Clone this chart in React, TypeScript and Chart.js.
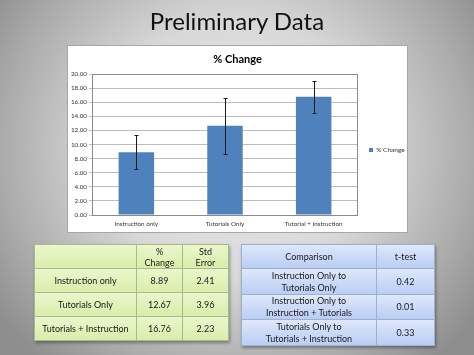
import React, { useEffect, useRef } from "react";
import { Chart, registerables } from "chart.js";

Chart.register(...registerables);

const categories = ["Instruction only", "Tutorials Only", "Tutorial + Instruction"];
const percentChange = [8.89, 12.67, 16.76];
const stdError = [2.41, 3.96, 2.23];
const yMin = 0;
const yMax = 20;
const yStep = 2;

const tableHeader = ["", "%\nChange", "Std\nError"];
const tableRowLabels = ["Instruction only", "Tutorials Only", "Tutorials + Instruction"];
const tableChange = ["8.89", "12.67", "16.76"];
const tableError = ["2.41", "3.96", "2.23"];

const compHeader = ["Comparison", "t-test"];
const comparisons = [
  "Instruction Only to\nTutorials Only",
  "Instruction Only to\nInstruction + Tutorials",
  "Tutorials Only to\nTutorials + Instruction",
];
const tTests = ["0.42", "0.01", "0.33"];

const FONT = "Lato, 'Open Sans', sans-serif";

const plotBorder = {
  id: "plotBorder",
  beforeDatasetsDraw(chart: any) {
    const { ctx, chartArea } = chart;
    ctx.save();
    ctx.strokeStyle = "#8a8a8a";
    ctx.lineWidth = 1;
    ctx.strokeRect(
      Math.round(chartArea.left) + 0.5,
      Math.round(chartArea.top) + 0.5,
      Math.round(chartArea.right - chartArea.left) - 1,
      Math.round(chartArea.bottom - chartArea.top)
    );
    ctx.restore();
  },
};

const errorBars = {
  id: "errorBars",
  afterDatasetsDraw(chart: any) {
    const meta = chart.getDatasetMeta(0);
    const y = chart.scales.y;
    const ctx = chart.ctx;
    ctx.save();
    ctx.strokeStyle = "#1a1a1a";
    ctx.lineWidth = 1;
    meta.data.forEach((bar: any, i: number) => {
      const v = percentChange[i];
      const e = stdError[i];
      const x = Math.round(bar.x) + 0.5;
      const yTop = Math.round(y.getPixelForValue(v + e)) + 0.5;
      const yBot = Math.round(y.getPixelForValue(v - e)) + 0.5;
      ctx.beginPath();
      ctx.moveTo(x, yTop);
      ctx.lineTo(x, yBot);
      ctx.moveTo(x - 2, yTop);
      ctx.lineTo(x + 2, yTop);
      ctx.moveTo(x - 2, yBot);
      ctx.lineTo(x + 2, yBot);
      ctx.stroke();
    });
    ctx.restore();
  },
};

function ChartBox() {
  const ref = useRef<HTMLCanvasElement>(null);
  useEffect(() => {
    if (!ref.current) return;
    const chart = new Chart(ref.current, {
      type: "bar",
      data: {
        labels: categories,
        datasets: [
          {
            label: "% Change",
            data: percentChange,
            backgroundColor: "#4F81BD",
            borderWidth: 0,
            barPercentage: 0.4,
            categoryPercentage: 1,
          },
        ],
      },
      options: {
        animation: false,
        responsive: false,
        devicePixelRatio: 1,
        layout: { padding: { left: 0, right: 0, top: 0, bottom: 0 } },
        plugins: {
          title: {
            display: true,
            text: "% Change",
            color: "#000",
            font: { family: FONT, size: 11, weight: "bold" },
            padding: { top: 6.4, bottom: 8.4 },
          },
          legend: {
            position: "right",
            maxWidth: 49,
            title: {
              display: true,
              text: "",
              font: { family: FONT, size: 2, lineHeight: 1 },
              padding: { top: 20, bottom: 0 },
            },
            labels: {
              boxWidth: 4,
              boxHeight: 4,
              padding: 11,
              color: "#333",
              font: { family: FONT, size: 6.5 },
            },
          },
          tooltip: { enabled: false },
        },
        scales: {
          x: {
            grid: { display: false, drawTicks: false },
            border: { display: false },
            ticks: {
              color: "#333",
              font: { family: FONT, size: 6.3 },
              padding: 5,
              maxRotation: 0,
            },
            afterFit: (s: any) => {
              s.height = 17;
            },
          },
          y: {
            min: yMin,
            max: yMax,
            grid: { color: "#bdbdbd", lineWidth: 1, tickLength: 3, drawTicks: true },
            border: { display: false },
            ticks: {
              stepSize: yStep,
              color: "#333",
              font: { family: FONT, size: 6.3 },
              padding: 2,
              callback: (v: any) => Number(v).toFixed(2),
            },
            afterFit: (s: any) => {
              s.width = 24;
            },
          },
        },
      },
      plugins: [plotBorder, errorBars],
    });
    return () => chart.destroy();
  }, []);
  return <canvas ref={ref} width={339} height={186} style={{ display: "block", width: 339, height: 186 }} />;
}

function Cell({ text, bg, lh }: { text: string; bg: string; lh: number }) {
  return (
    <div
      style={{
        background: bg,
        display: "flex",
        alignItems: "center",
        justifyContent: "center",
        textAlign: "center",
        whiteSpace: "pre-line",
        lineHeight: lh + "px",
        fontSize: 9,
        color: "#1a1a1a",
      }}
    >
      {text}
    </div>
  );
}

export default function App() {
  const green = "linear-gradient(#ebf6cd, #d8eeaa)";
  const blue = "linear-gradient(#dfe8fb, #b9cdf4)";
  return (
    <div
      style={{
        position: "fixed",
        left: 0,
        top: 0,
        width: 474,
        height: 355,
        overflow: "hidden",
        fontFamily: FONT,
        background:
          "radial-gradient(ellipse 62% 80% at 50% 42%, #ececec 0%, #d8d8d8 45%, #ababab 80%, #8e8e8e 100%)",
      }}
    >
      <div
        style={{
          position: "absolute",
          left: 0,
          top: 6,
          width: 474,
          textAlign: "center",
          fontSize: 24,
          lineHeight: "29px",
          color: "#111",
        }}
      >
        Preliminary Data
      </div>
      <div
        style={{
          position: "absolute",
          left: 67,
          top: 45,
          width: 341,
          height: 188,
          boxSizing: "border-box",
          border: "1px solid #a6a6a6",
          background: "#fff",
        }}
      >
        <ChartBox />
      </div>
      <div
        style={{
          position: "absolute",
          left: 34,
          top: 244,
          width: 195,
          height: 97,
          boxSizing: "border-box",
          padding: 1,
          gap: 1,
          display: "grid",
          gridTemplateColumns: "101px 45px 1fr",
          gridTemplateRows: "repeat(4, 1fr)",
          background: "#a9b98e",
          boxShadow: "1px 2px 3px rgba(0,0,0,0.35)",
        }}
      >
        {tableHeader.map((t, i) => (
          <Cell key={"h" + i} text={t} bg={green} lh={11} />
        ))}
        {tableRowLabels.map((r, i) => (
          <React.Fragment key={"r" + i}>
            <Cell text={r} bg={green} lh={11} />
            <Cell text={tableChange[i]} bg={green} lh={11} />
            <Cell text={tableError[i]} bg={green} lh={11} />
          </React.Fragment>
        ))}
      </div>
      <div
        style={{
          position: "absolute",
          left: 241,
          top: 244,
          width: 194,
          height: 102,
          boxSizing: "border-box",
          padding: 1,
          gap: 1,
          display: "grid",
          gridTemplateColumns: "134px 1fr",
          gridTemplateRows: "23px 25px 24px 25px",
          background: "#9fb0cf",
          boxShadow: "1px 2px 3px rgba(0,0,0,0.35)",
        }}
      >
        {compHeader.map((t, i) => (
          <Cell key={"ch" + i} text={t} bg={blue} lh={12} />
        ))}
        {comparisons.map((c, i) => (
          <React.Fragment key={"c" + i}>
            <Cell text={c} bg={blue} lh={12} />
            <Cell text={tTests[i]} bg={blue} lh={12} />
          </React.Fragment>
        ))}
      </div>
    </div>
  );
}
